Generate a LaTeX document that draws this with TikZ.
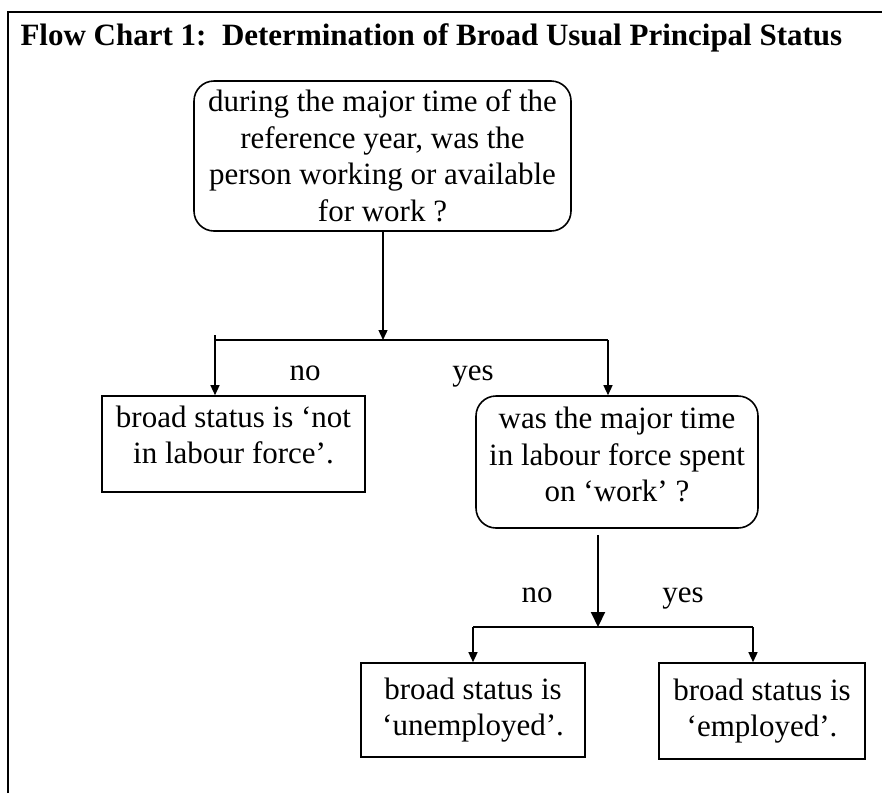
\documentclass[tikz,border=0pt]{standalone}
\usepackage{fontspec}
\setmainfont{Liberation Serif}
\usetikzlibrary{positioning,arrows.meta}

\tikzset{
  question/.style={draw, line width=1.6pt, rounded corners=20pt, align=center, inner sep=0pt},
  answer/.style={draw, line width=1.6pt, align=center, inner sep=0pt},
  flow/.style={line width=1.3pt, -{Triangle[length=10pt,width=9pt]}},
  bigflow/.style={line width=2pt, -{Triangle[length=15pt,width=14pt]}},
  branch/.style={line width=1.3pt},
  tag/.style={anchor=base},
}

\begin{document}
\begin{tikzpicture}[x=1pt,y=-1pt,font=\fontsize{31}{36.5}\selectfont]
\useasboundingbox (0,0) rectangle (882,793);
% frame
\draw[line width=2.5pt] (8,793) -- (8,12) -- (882,12);
\node[anchor=base west,font=\fontsize{31}{36}\selectfont\bfseries] (title) at (17,45)
  {Flow Chart 1:\ \ Determination of Broad Usual Principal Status};

% boxes
\node[question,minimum width=377pt,minimum height=150pt] (work) at (382.5,156)
  {during the major time of the\\reference year, was the\\person working or available\\for work ?};
\node[answer,minimum width=263pt,minimum height=96pt,text depth=19pt] (nilf) at (233.5,444)
  {broad status is `not\\in labour force'.};
\node[question,minimum width=282pt,minimum height=132pt,text depth=15pt] (lf) at (617,462)
  {was the major time\\in labour force spent\\on `work' ?};
\node[answer,minimum width=224pt,minimum height=94pt] (unemp) at (473,710)
  {broad status is\\`unemployed'.};
\node[answer,minimum width=206pt,minimum height=96pt] (emp) at (762,711)
  {broad status is\\`employed'.};

% branch points
\coordinate (split1) at (383,340);
\coordinate (splitL) at (215,340);
\coordinate (splitR) at (608,340);
\coordinate (tickL) at (215,335);
\coordinate (split2) at (598,627);
\coordinate (split2L) at (473,627);
\coordinate (split2R) at (753,627);

% connectors
\draw[flow] (work.south -| split1) -- (split1);
\draw[branch] (splitL) -- (splitR);
\draw[flow] (tickL) -- (tickL |- nilf.north);
\draw[flow] (splitR) -- (splitR |- lf.north);
\draw[bigflow] ([yshift=-6pt]lf.south -| split2) -- (split2);
\draw[branch] (split2L) -- (split2R);
\draw[flow] (split2L) -- (split2L |- unemp.north);
\draw[flow] (split2R) -- (split2R |- emp.north);

% labels
\node[tag] (no1) at (305,380) {no};
\node[tag] (yes1) at (473,380) {yes};
\node[tag] (no2) at (537,602) {no};
\node[tag] (yes2) at (683,602) {yes};
\end{tikzpicture}
\end{document}
